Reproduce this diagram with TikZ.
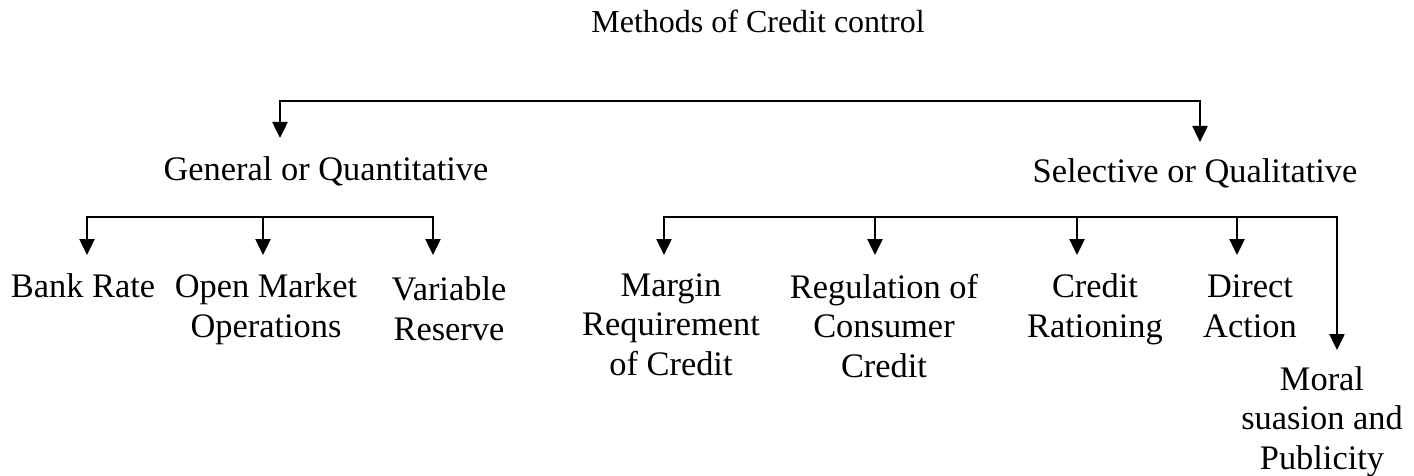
\documentclass[tikz,border=0pt]{standalone}
\usepackage{fontspec}
\setmainfont{Liberation Serif}
\usetikzlibrary{arrows.meta}

\begin{document}
\begin{tikzpicture}[x=0.5pt, y=-0.5pt,
  item/.style={anchor=base, align=center, inner sep=0pt, font=\fontsize{17.2}{19.6}\selectfont},
  arr/.style={-{Triangle[length=8pt,width=7.6pt]}, line width=0.9pt},
  twoway/.style={{Triangle[length=8pt,width=7.6pt]}-{Triangle[length=8pt,width=7.6pt]}, line width=0.9pt}]
\useasboundingbox (0,0) rectangle (1414,476);

% multi-line nodes sit on the baseline of their last line
\node[item, font=\fontsize{16}{19}\selectfont] (methods) at (758,33) {Methods of Credit control};
\node[item] (general) at (326,180) {General or Quantitative};
\node[item] (selective) at (1195,183) {Selective or Qualitative};

\node[item] (bank) at (83,297) {Bank Rate};
\node[item] (open) at (266,337) {Open Market\\Operations};
\node[item] (variable) at (449,340) {Variable\\Reserve};

\node[item] (margin) at (671,375) {Margin\\Requirement\\of Credit};
\node[item] (regulation) at (884,377) {Regulation of\\Consumer\\Credit};
\node[item] (rationing) at (1095,337) {Credit\\Rationing};
\node[item] (direct) at (1250,337) {Direct\\Action};
\node[item] (moral) at (1322,469) {Moral\\suasion and\\Publicity};

% main split
\coordinate (top-l) at (280,101);
\coordinate (top-r) at (1200,101);
\coordinate (general-in) at (280,138);
\coordinate (selective-in) at (1200,142);
\draw[twoway] (general-in) -- (top-l) -- (top-r) -- (selective-in);

% general branches
\foreach \x/\n in {87/bank, 263/open, 433/variable} {
  \coordinate (\n-bar) at (\x,217);
  \coordinate (\n-in) at (\x,255);
}
\draw[twoway] (bank-in) -- (bank-bar) -- (variable-bar) -- (variable-in);
\draw[arr] (open-bar) -- (open-in);

% selective branches
\foreach \x/\n in {664/margin, 875/regulation, 1077/rationing, 1237/direct} {
  \coordinate (\n-bar) at (\x,217);
  \coordinate (\n-in) at (\x,255);
}
\coordinate (moral-bar) at (1337,217);
\coordinate (moral-in) at (1337,350);
\draw[twoway] (margin-in) -- (margin-bar) -- (moral-bar) -- (moral-in);
\foreach \n in {regulation, rationing, direct}
  \draw[arr] (\n-bar) -- (\n-in);
\end{tikzpicture}
\end{document}
